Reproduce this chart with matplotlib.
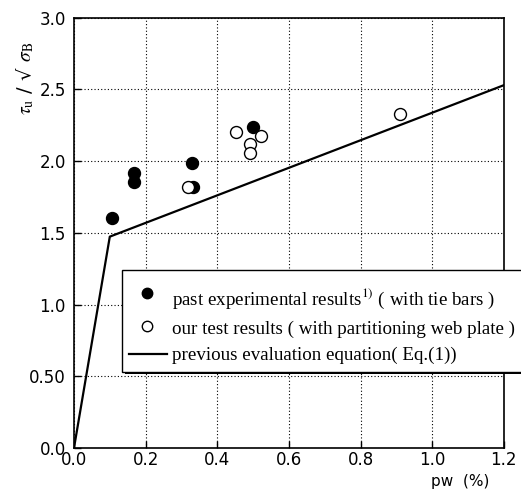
import matplotlib
matplotlib.use("Agg")
import matplotlib.pyplot as plt
from matplotlib.patches import Rectangle
from matplotlib.lines import Line2D

# past experimental results (filled)
past_pw = [0.107, 0.168, 0.168, 0.330, 0.332, 0.500]
past_ratio = [1.607, 1.917, 1.854, 1.987, 1.821, 2.240]

# our test results (open)
ours_pw = [0.319, 0.451, 0.522, 0.492, 0.492, 0.909]
ours_ratio = [1.817, 2.207, 2.177, 2.119, 2.056, 2.329]

# previous evaluation equation
eq_pw = [0.0, 0.1, 1.2]
eq_ratio = [0.0, 1.474, 2.53]

x_ticks = [0.0, 0.2, 0.4, 0.6, 0.8, 1.0, 1.2]
x_labels = ["0.0", "0.2", "0.4", "0.6", "0.8", "1.0", "1.2"]
y_ticks = [0.0, 0.5, 1.0, 1.5, 2.0, 2.5, 3.0]
y_labels = ["0.0", "0.50", "1.0", "1.5", "2.0", "2.5", "3.0"]

legend_labels = [
    r"past experimental results$^{\mathrm{1)}}$ ( with tie bars )",
    "our test results ( with partitioning web plate )",
    "previous evaluation equation( Eq.(1))",
]

plt.rcParams["mathtext.fontset"] = "stix"

fig = plt.figure(figsize=(5.21, 4.94), dpi=100)
ax = fig.add_axes([0.142, 0.093, 0.825, 0.871])

ax.plot(eq_pw, eq_ratio, color="black", lw=1.6, zorder=3)
ax.plot(past_pw, past_ratio, "o", color="black", ms=8.6, zorder=4)
ax.plot(ours_pw, ours_ratio, "o", mfc="white", mec="black", mew=1.0,
        ms=8.6, zorder=4)

ax.set_xlim(0, 1.2)
ax.set_ylim(0, 3.0)
ax.set_xticks(x_ticks)
ax.set_xticklabels(x_labels)
ax.set_yticks(y_ticks)
ax.set_yticklabels(y_labels)
ax.tick_params(direction="in", length=5, width=1, labelsize=12)
ax.tick_params(axis="x", pad=2)
ax.tick_params(axis="y", pad=6)
ax.grid(True, color="black", ls=(0, (1, 2)), lw=0.8)
for s in ax.spines.values():
    s.set_linewidth(1.2)

fig.text(0.94, 0.025, "pw  (%)", fontsize=11, ha="right", va="center")
fig.text(0.048, 0.842,
         r"$\tau_{\mathrm{u}}$ " + "\u2215 \u221a" + r" $\sigma_{\mathrm{B}}$",
         rotation=90, fontsize=14, ha="center", va="center")

# legend box with shadow
fig.add_artist(Rectangle((0.240, 0.242), 0.9, 0.206, transform=fig.transFigure,
                         facecolor="black", edgecolor="none", zorder=5))
fig.add_artist(Rectangle((0.234, 0.247), 0.9, 0.206, transform=fig.transFigure,
                         facecolor="white", edgecolor="black", lw=1.0, zorder=6))
fig.add_artist(Line2D([0.282], [0.407], marker="o", color="black", ms=7.5,
                      transform=fig.transFigure, zorder=7))
fig.add_artist(Line2D([0.282], [0.340], marker="o", mfc="white", mec="black",
                      mew=1.0, ms=7.5, transform=fig.transFigure, zorder=7))
fig.add_artist(Line2D([0.248, 0.321], [0.283, 0.283], color="black", lw=1.6,
                      transform=fig.transFigure, zorder=7))
for yy, lab in zip([0.395, 0.334, 0.281], legend_labels):
    fig.text(0.330, yy, lab, fontsize=13.7, family="Liberation Serif",
             ha="left", va="center", zorder=8)

fig.savefig("out.png", dpi=100)
